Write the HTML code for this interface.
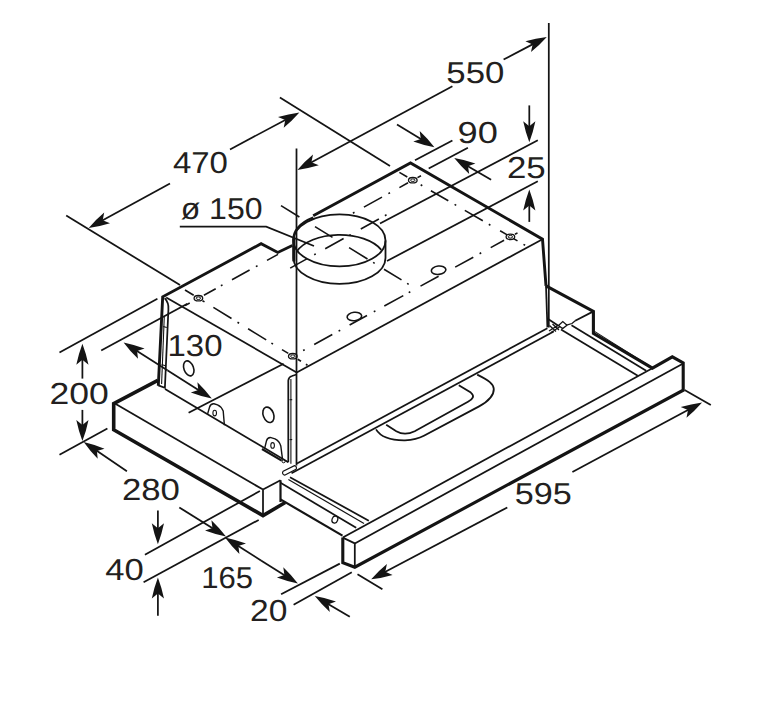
<!DOCTYPE html>
<html><head><meta charset="utf-8"><title>Dimensions</title>
<style>
html,body{margin:0;padding:0;background:#fff;}
body{width:761px;height:703px;overflow:hidden;}
svg{display:block;}
svg path{fill:none;stroke:#141414;stroke-linecap:butt;stroke-linejoin:miter;}
svg text{font-family:"Liberation Sans",sans-serif;fill:#231f20;text-rendering:geometricPrecision;}
</style></head><body>
<svg width="761" height="703" viewBox="0 0 761 703">
<path d="M158.3 385.8 L162.7 296.8 L261.1 243.7 L277.8 252.5 L292.3 245.5" stroke-width="2.9" />
<path d="M313.2 215.8 L410.5 163.0 L542.5 239.2 L546.0 285.9" stroke-width="2.9" />
<path d="M166.2 297.6 L296.7 372.4" stroke-width="1.75" />
<path d="M296.7 372.4 L542.5 239.2" stroke-width="1.75" />
<path d="M296.5 148.6 L296.5 465.5" stroke-width="1.75" />
<path d="M164.7 298.2 Q169 303 168.4 309.5 L164.9 387.8 L158.3 385.4" stroke-width="1.75" />
<path d="M164.3 316.0 L161.6 384.0" stroke-width="1.1" />
<path d="M163.2 326.5 L166.8 327.5" stroke-width="1.1" />
<path d="M161.6 364.5 L165.3 365.7" stroke-width="1.1" />
<path d="M165.0 389.0 L288.3 462.2" stroke-width="1.75" />
<ellipse cx="339.5" cy="240.4" rx="46" ry="26" fill="none" stroke="#141414" stroke-width="1.8"/>
<path d="M293.5 240.4 L293.5 257.9 A46 26 0 0 0 385.5 257.9 L385.5 240.4" stroke-width="1.8" />
<path d="M296.7 251.6 A46 26 0 0 1 381.3 249.8" stroke-width="1.8" />
<path d="M293.8 261.4 L293.8 238.4" stroke-width="3.0" />
<path d="M293.5 240.4 A46 26 0 0 1 313.2 217.6" stroke-width="2.2" />
<path d="M185.0 305.6 L189.7 303.0 M203.9 295.2 L215.7 288.7 M232.0 279.7 L249.6 270.0 M267.0 260.4 L278.0 254.4 M363.9 207.1 L382.0 197.1 M399.4 187.6 L408.0 182.8 M417.5 177.6 L421.0 175.7 M220.9 285.8 L222.5 284.9 M255.9 266.6 L257.5 265.7 M352.9 213.2 L354.5 212.3 M388.4 193.6 L390.0 192.7 " stroke-width="1.6" />
<path d="M185.0 290.0 L193.7 295.3 M202.5 300.7 L204.5 301.9 M213.4 307.4 L231.5 318.5 M248.1 328.7 L266.2 339.9 M282.0 349.6 L288.3 353.4 M297.7 359.2 L301.0 361.2 M237.5 322.2 L239.1 323.2 M271.4 343.1 L273.0 344.0 M305.9 364.2 L307.5 365.2 " stroke-width="1.6" />
<path d="M314.2 344.5 L332.3 334.5 M349.6 325.0 L367.0 315.5 M384.3 306.0 L403.3 295.6 M420.5 286.1 L438.6 276.2 M455.2 267.1 L473.3 257.2 M490.7 247.6 L504.1 240.3 M515.0 234.3 L517.5 232.9 M303.1 350.5 L304.7 349.7 M338.6 331.1 L340.2 330.2 M373.8 311.8 L375.4 310.9 M408.7 292.6 L410.3 291.7 M479.6 253.7 L481.2 252.8 " stroke-width="1.6" />
<path d="M399.4 172.4 L407.3 177.0 M430.9 190.7 L448.3 200.8 M464.8 210.4 L482.8 220.8 M500.1 230.8 L507.2 234.9 M513.5 238.6 L517.5 240.9 M420.7 184.8 L422.3 185.7 M454.6 204.4 L456.2 205.4 M488.8 224.3 L490.4 225.2 M523.5 244.4 L525.1 245.3 " stroke-width="1.6" />
<path d="M290.2 268.1 L306.8 258.9 M325.2 248.7 L343.6 238.5 M360.8 229.0 L378.9 219.0 M314.2 254.8 L315.8 253.9 M349.2 235.4 L350.8 234.6 M384.9 215.7 L386.5 214.8 " stroke-width="1.6" />
<path d="M281.0 205.6 L299.4 217.0 M315.0 226.6 L332.5 237.4 M349.1 247.6 L367.5 259.0 M384.0 269.2 L401.5 279.9 M373.1 262.4 L374.7 263.4 M407.1 283.4 L408.7 284.4 " stroke-width="1.6" />
<ellipse cx="412.8" cy="180.2" rx="4.3" ry="2.7" fill="none" stroke="#141414" stroke-width="1.3"/>
<ellipse cx="412.8" cy="180.2" rx="2.2" ry="1.3" fill="none" stroke="#141414" stroke-width="1.0"/>
<ellipse cx="510.4" cy="236.8" rx="4.3" ry="2.7" fill="none" stroke="#141414" stroke-width="1.3"/>
<ellipse cx="510.4" cy="236.8" rx="2.2" ry="1.3" fill="none" stroke="#141414" stroke-width="1.0"/>
<ellipse cx="198.4" cy="298.2" rx="4.3" ry="2.7" fill="none" stroke="#141414" stroke-width="1.3"/>
<ellipse cx="198.4" cy="298.2" rx="2.2" ry="1.3" fill="none" stroke="#141414" stroke-width="1.0"/>
<ellipse cx="292.8" cy="356.2" rx="4.3" ry="2.7" fill="none" stroke="#141414" stroke-width="1.3"/>
<ellipse cx="292.8" cy="356.2" rx="2.2" ry="1.3" fill="none" stroke="#141414" stroke-width="1.0"/>
<ellipse cx="354.4" cy="316.5" rx="7.3" ry="4.2" fill="#fff" stroke="#141414" stroke-width="1.6" transform="rotate(-6 354.4 316.5)"/>
<ellipse cx="438.6" cy="270.2" rx="7.3" ry="4.2" fill="#fff" stroke="#141414" stroke-width="1.6" transform="rotate(-6 438.6 270.2)"/>
<path d="M297.0 463.6 L547.4 328.2" stroke-width="1.75" />
<path d="M291.5 473.2 L553.7 331.6" stroke-width="1.75" />
<path d="M546.0 285.9 L547.4 327.4" stroke-width="1.75" />
<path d="M548.8 23.0 L548.8 327.4" stroke-width="1.75" />
<path d="M546.0 285.9 L593.4 311.4 L593.4 333.4 L652.4 368.2 L672.3 356.8 L683.2 363.0 L683.2 390.2 L354.8 567.2 L342.8 562.6 L342.8 537.6" stroke-width="3.1" />
<path d="M593.4 311.4 L575.2 320.8" stroke-width="1.75" />
<path d="M575.2 320.8 L572 323.5 L566.5 325.2 M558.5 325.5 L562.8 321.6 L567 325.2 L562.6 328.6 Z M549.5 325.5 L556 331.5 M552.5 324 L559 330 M549 331 L557.5 325.6 M551 332.5 L559.5 327" stroke-width="1.3" />
<path d="M547.4 318.6 L558.7 326.1" stroke-width="1.75" />
<path d="M561.0 329.4 L637.8 375.7" stroke-width="1.75" />
<path d="M571.5 325.2 L646.2 370.8" stroke-width="1.75" />
<path d="M594.5 331.4 L650.6 366.8" stroke-width="1.1" />
<path d="M342.8 537.6 L652.4 368.2" stroke-width="1.75" />
<path d="M354.8 543.4 L683.2 363.4" stroke-width="1.75" />
<path d="M342.8 537.6 L354.8 543.4 L354.8 567.0" stroke-width="1.75" />
<path d="M376 429.4 C380 436 388 440.5 405 440.3 C414 440 419 438.5 423.9 435.8 L479.1 406.4 C488 401.5 494 395 493.8 389 C493.5 384 489 380.5 477.2 374.6" stroke-width="1.8" />
<path d="M386.2 424.8 L396.3 431.2 C401 434 408 434.5 414.7 431.2 L468 401.8 C473 399 475 396 470.8 392.6 L458.8 385.2" stroke-width="1.8" />
<path d="M157.8 380.3 L113.7 403.6 L113.7 429.8 L263.0 515.6 L285.2 502.5" stroke-width="3.6" />
<path d="M114.9 403.6 L263.0 489.6" stroke-width="1.75" />
<path d="M263.0 489.6 L263.0 515.4" stroke-width="1.75" />
<path d="M263.0 489.6 L280.5 480.2" stroke-width="1.75" />
<path d="M280.5 480.2 L280.5 502.0" stroke-width="2.2" />
<path d="M290.0 477.3 L368.8 520.7" stroke-width="1.75" />
<path d="M288.4 479.6 L364.0 523.4" stroke-width="1.2" />
<path d="M280.5 482.8 L356.2 527.8" stroke-width="1.75" />
<path d="M280.5 499.4 L342.5 535.6" stroke-width="2.2" />
<ellipse cx="334.9" cy="519.6" rx="2.8" ry="3.6" fill="none" stroke="#141414" stroke-width="1.3" transform="rotate(20 334.9 519.6)"/>
<ellipse cx="188.8" cy="368.4" rx="4.8" ry="7.8" fill="none" stroke="#141414" stroke-width="1.6" transform="rotate(-20 188.7 368.6)"/>
<ellipse cx="268.3" cy="414.7" rx="5.2" ry="8" fill="none" stroke="#141414" stroke-width="1.6" transform="rotate(-20 268.7 414.4)"/>
<path d="M288.3 462.2 L288.3 380.5 Q288.6 377 292 376 L296.5 374.5" stroke-width="1.75" />
<path d="M290.9 379.0 L290.9 463.8" stroke-width="1.1" />
<path d="M289.5 399.7 L292.2 399.7" stroke-width="1.1" />
<path d="M289.5 439.6 L292.2 439.6" stroke-width="1.1" />
<path d="M284.6 475.2 L296 469.4 A2.4 2.4 0 0 0 294.4 465.6 L283.2 471.2 A2.4 2.4 0 0 0 284.6 475.2 Z" stroke-width="1.2" />
<path d="M207.6 413.9 L209.6 407 Q210.6 403.6 214 403.8 L217.5 404.8 Q221.5 406.5 223.2 411 L224.4 425.2" stroke-width="1.4" />
<ellipse cx="214.7" cy="413.1" rx="1.8" ry="2.8" fill="none" stroke="#141414" stroke-width="1.1"/>
<path d="M264.6 448.6 L266.5 440.8 Q267.6 437.2 271 437.6 L275 438.8 Q279.5 441 280.8 446 L282.5 459.2" stroke-width="1.4" />
<ellipse cx="272.6" cy="445.4" rx="1.8" ry="2.8" fill="none" stroke="#141414" stroke-width="1.1"/>
<path d="M262.0 449.0 L281.7 460.6" stroke-width="2.2" />
<circle cx="283.6" cy="461.2" r="1.6" fill="none" stroke="#141414" stroke-width="1.0"/>
<path d="M66.2 215.6 L180.0 285.0" stroke-width="1.75" />
<path d="M279.9 97.5 L390.0 166.0" stroke-width="1.75" />
<path d="M88.7 228.0 Q96.0 219.5 104.2 212.6 L102.7 220.3 L110.0 223.2 Q99.8 226.4 88.7 228.0 Z" style="fill:#141414;stroke:none"/>
<path d="M170.0 183.4 L100.9 221.3" stroke-width="1.75" />
<path d="M299.4 112.4 Q292.0 120.8 283.7 127.7 L285.3 119.9 L278.0 116.9 Q288.3 113.9 299.4 112.4 Z" style="fill:#141414;stroke:none"/>
<path d="M230.0 149.4 L287.1 119.0" stroke-width="1.75" />
<text x="172.90" y="173.47" font-size="30.3" textLength="55.07" lengthAdjust="spacingAndGlyphs">470</text>
<path d="M297.4 169.9 Q304.8 161.4 313.0 154.6 L311.4 162.3 L318.8 165.3 Q308.5 168.4 297.4 169.9 Z" style="fill:#141414;stroke:none"/>
<path d="M452.4 86.2 L309.7 163.3" stroke-width="1.75" />
<path d="M546.8 37.0 Q539.3 45.4 531.0 52.1 L532.6 44.4 L525.4 41.3 Q535.7 38.3 546.8 37.0 Z" style="fill:#141414;stroke:none"/>
<path d="M503.6 59.5 L534.4 43.4" stroke-width="1.75" />
<text x="446.35" y="82.62" font-size="30.3" textLength="58.04" lengthAdjust="spacingAndGlyphs">550</text>
<path d="M415.0 160.3 L452.4 140.6" stroke-width="1.75" />
<path d="M428.7 168.6 L467.9 147.8" stroke-width="1.75" />
<path d="M434.4 147.3 Q423.4 145.2 413.3 141.5 L420.8 139.0 L419.7 131.1 Q427.5 138.4 434.4 147.3 Z" style="fill:#141414;stroke:none"/>
<path d="M397.0 124.4 L422.5 140.0" stroke-width="1.75" />
<path d="M454.2 158.1 Q465.3 160.0 475.4 163.5 L468.0 166.2 L469.2 174.0 Q461.2 166.8 454.2 158.1 Z" style="fill:#141414;stroke:none"/>
<path d="M491.1 179.8 L466.2 165.2" stroke-width="1.75" />
<text x="457.60" y="143.18" font-size="30.3" textLength="40.27" lengthAdjust="spacingAndGlyphs">90</text>
<path d="M537.8 140.2 L380.0 223.6" stroke-width="1.75" />
<path d="M537.8 181.2 L387.0 261.0" stroke-width="1.75" />
<path d="M529.3 142.3 Q525.4 131.8 523.2 121.3 L529.3 126.3 L535.4 121.3 Q533.2 131.8 529.3 142.3 Z" style="fill:#141414;stroke:none"/>
<path d="M529.3 105.4 L529.3 128.3" stroke-width="1.75" />
<path d="M529.3 189.4 Q533.2 199.9 535.4 210.4 L529.3 205.4 L523.2 210.4 Q525.4 199.9 529.3 189.4 Z" style="fill:#141414;stroke:none"/>
<path d="M529.3 221.9 L529.3 203.4" stroke-width="1.75" />
<text x="506.95" y="178.43" font-size="30.3" textLength="38.77" lengthAdjust="spacingAndGlyphs">25</text>
<text x="180.65" y="219.25" font-size="30.3" textLength="81.88" lengthAdjust="spacingAndGlyphs">ø 150</text>
<path d="M179.8 226.6 L266.2 226.6 L314.0 246.0" stroke-width="1.75" />
<path d="M101.2 350.4 L187.3 303.7" stroke-width="1.75" />
<path d="M188.6 412.8 L283.6 363.7" stroke-width="1.75" />
<path d="M123.6 342.4 Q134.6 344.7 144.6 348.5 L137.1 351.0 L138.0 358.8 Q130.3 351.4 123.6 342.4 Z" style="fill:#141414;stroke:none"/>
<path d="M167.7 370.5 L135.4 349.9" stroke-width="1.75" />
<path d="M211.8 398.6 Q200.8 396.3 190.8 392.5 L198.3 390.0 L197.4 382.2 Q205.1 389.6 211.8 398.6 Z" style="fill:#141414;stroke:none"/>
<path d="M167.7 370.5 L200.0 391.1" stroke-width="1.75" />
<text x="167.50" y="355.98" font-size="30.3" textLength="54.96" lengthAdjust="spacingAndGlyphs">130</text>
<path d="M59.5 352.4 L157.4 298.7" stroke-width="1.75" />
<path d="M59.5 454.8 L107.4 428.6" stroke-width="1.75" />
<path d="M82.4 343.7 Q86.4 354.2 88.5 364.7 L82.4 359.7 L76.3 364.7 Q78.5 354.2 82.4 343.7 Z" style="fill:#141414;stroke:none"/>
<path d="M82.4 378.6 L82.4 357.7" stroke-width="1.75" />
<path d="M82.4 441.0 Q78.5 430.5 76.3 420.0 L82.4 425.0 L88.5 420.0 Q86.4 430.5 82.4 441.0 Z" style="fill:#141414;stroke:none"/>
<path d="M82.4 409.9 L82.4 427.0" stroke-width="1.75" />
<text x="49.55" y="404.42" font-size="30.3" textLength="59.31" lengthAdjust="spacingAndGlyphs">200</text>
<path d="M83.7 442.0 Q94.6 444.6 104.5 448.7 L96.9 450.9 L97.7 458.8 Q90.2 451.2 83.7 442.0 Z" style="fill:#141414;stroke:none"/>
<path d="M126.9 471.2 L95.3 449.8" stroke-width="1.75" />
<path d="M226.0 536.6 Q215.0 534.4 205.0 530.6 L212.5 528.1 L211.4 520.3 Q219.2 527.7 226.0 536.6 Z" style="fill:#141414;stroke:none"/>
<path d="M179.3 507.4 L214.2 529.2" stroke-width="1.75" />
<text x="121.90" y="499.67" font-size="30.3" textLength="58.00" lengthAdjust="spacingAndGlyphs">280</text>
<path d="M144.9 554.8 L259.9 491.0" stroke-width="1.75" />
<path d="M143.6 582.3 L258.7 519.9" stroke-width="1.75" />
<path d="M157.9 544.2 Q154.0 533.7 151.8 523.2 L157.9 528.2 L164.0 523.2 Q161.8 533.7 157.9 544.2 Z" style="fill:#141414;stroke:none"/>
<path d="M157.9 510.5 L157.9 530.2" stroke-width="1.75" />
<path d="M157.9 577.6 Q161.8 588.1 164.0 598.6 L157.9 593.6 L151.8 598.6 Q154.0 588.1 157.9 577.6 Z" style="fill:#141414;stroke:none"/>
<path d="M157.9 615.8 L157.9 591.6" stroke-width="1.75" />
<text x="105.30" y="579.93" font-size="30.3" textLength="38.51" lengthAdjust="spacingAndGlyphs">40</text>
<path d="M225.0 537.4 Q236.0 539.7 246.0 543.6 L238.4 546.0 L239.4 553.9 Q231.7 546.4 225.0 537.4 Z" style="fill:#141414;stroke:none"/>
<path d="M261.0 560.5 L236.7 544.9" stroke-width="1.75" />
<path d="M297.9 583.6 Q286.9 581.4 276.9 577.6 L284.4 575.1 L283.3 567.3 Q291.1 574.7 297.9 583.6 Z" style="fill:#141414;stroke:none"/>
<path d="M261.0 560.5 L286.1 576.2" stroke-width="1.75" />
<text x="201.30" y="588.48" font-size="30.3" textLength="51.85" lengthAdjust="spacingAndGlyphs">165</text>
<path d="M281.1 594.3 L339.8 563.6" stroke-width="1.75" />
<path d="M293.6 604.8 L351.8 572.3" stroke-width="1.75" />
<path d="M314.8 596.1 Q325.8 598.0 336.0 601.5 L328.5 604.2 L329.8 612.0 Q321.8 604.8 314.8 596.1 Z" style="fill:#141414;stroke:none"/>
<path d="M349.8 616.8 L326.8 603.2" stroke-width="1.75" />
<text x="250.10" y="620.82" font-size="30.3" textLength="37.31" lengthAdjust="spacingAndGlyphs">20</text>
<path d="M684.6 389.9 L710.8 404.9" stroke-width="1.75" />
<path d="M357.5 574.3 L382.4 589.3" stroke-width="1.75" />
<path d="M702.1 402.4 Q694.7 410.8 686.5 417.7 L688.0 409.9 L680.7 407.0 Q691.0 403.9 702.1 402.4 Z" style="fill:#141414;stroke:none"/>
<path d="M572.4 472.0 L689.8 409.0" stroke-width="1.75" />
<path d="M371.2 579.3 Q378.6 570.9 386.9 564.1 L385.3 571.8 L392.6 574.9 Q382.3 577.9 371.2 579.3 Z" style="fill:#141414;stroke:none"/>
<path d="M507.3 507.4 L383.5 572.8" stroke-width="1.75" />
<text x="514.80" y="504.08" font-size="30.3" textLength="57.04" lengthAdjust="spacingAndGlyphs">595</text>
</svg>
</body></html>
